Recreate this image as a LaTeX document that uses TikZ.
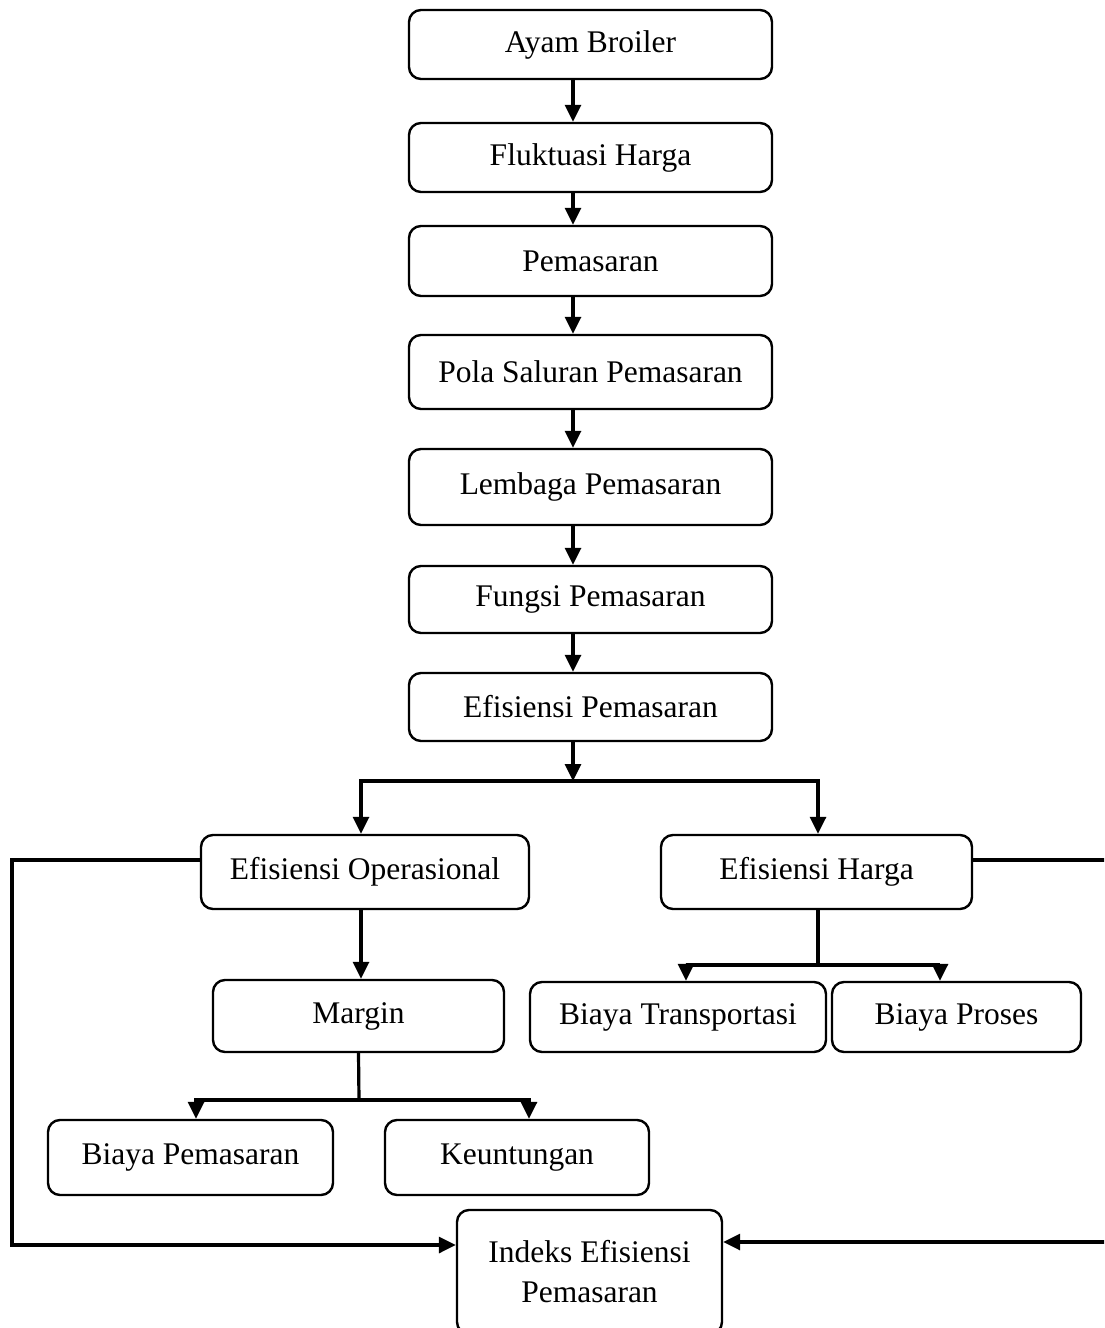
\documentclass[tikz,border=0pt]{standalone}
\usepackage{fontspec}
\setmainfont{Liberation Serif}
\usetikzlibrary{arrows.meta}
\begin{document}
\begin{tikzpicture}[x=1pt,y=-1pt,
  box/.style={draw, line width=2.4pt, rounded corners=12pt, inner sep=0pt, align=center,
    font=\fontsize{31.5}{40}\selectfont},
  conn/.style={line width=3.2pt},
  arr/.style={line width=3.2pt, -{Triangle[length=17pt,width=16pt]}}]
\useasboundingbox (0,0) rectangle (1104,1328);
\clip (0,0) rectangle (1104,1328);
% main column
\node[box, minimum width=363pt, minimum height=69pt] (b1) at (590.5,44.5) {Ayam Broiler};
\node[box, minimum width=363pt, minimum height=69pt] (b2) at (590.5,157.5) {Fluktuasi Harga};
\node[box, minimum width=363pt, minimum height=70pt] (b3) at (590.5,261) {Pemasaran};
\node[box, minimum width=363pt, minimum height=74pt] (b4) at (590.5,372) {Pola Saluran Pemasaran};
\node[box, minimum width=363pt, minimum height=76pt] (b5) at (590.5,487) {Lembaga Pemasaran};
\node[box, minimum width=363pt, minimum height=67pt] (b6) at (590.5,599.5) {Fungsi Pemasaran};
\node[box, minimum width=363pt, minimum height=68pt] (b7) at (590.5,707) {Efisiensi Pemasaran};
% second level
\node[box, minimum width=328pt, minimum height=74pt] (eo) at (365,872) {Efisiensi Operasional};
\node[box, minimum width=311pt, minimum height=74pt] (eh) at (816.5,872) {Efisiensi Harga};
% third level
\node[box, minimum width=291pt, minimum height=72pt] (mg) at (358.5,1016) {Margin};
\node[box, minimum width=296pt, minimum height=70pt] (bt) at (678,1017) {Biaya Transportasi};
\node[box, minimum width=249pt, minimum height=70pt] (bp) at (956.5,1017) {Biaya Proses};
% fourth level
\node[box, minimum width=285pt, minimum height=75pt] (bm) at (190.5,1157.5) {Biaya Pemasaran};
\node[box, minimum width=264pt, minimum height=75pt] (ku) at (517,1157.5) {Keuntungan};
% bottom
\node[box, minimum width=265pt, minimum height=124pt] (ix) at (589.5,1272) {Indeks Efisiensi\\Pemasaran};
% arrows in the main column
\foreach \a/\b in {b1/b2,b2/b3,b3/b4,b4/b5,b5/b6,b6/b7}
  \draw[arr] ([xshift=-17.5pt]\a.south) -- ([xshift=-17.5pt]\b.north);
% branch to efisiensi operasional / harga
\coordinate (j1) at (573,781);
\draw[arr] ([xshift=-17.5pt]b7.south) -- (j1);
\draw[arr] (j1) -| ([xshift=-4pt]eo.north);
\draw[arr] (j1) -| ([xshift=1.5pt]eh.north);
% operasional -> margin
\draw[arr] ([xshift=-4pt]eo.south) -- ([xshift=2.5pt]mg.north);
% harga -> biaya transportasi / proses
\coordinate (j2) at (818,965);
\draw[conn] ([xshift=1.5pt]eh.south) -- (j2);
\draw[arr] (j2) -| ([xshift=8pt]bt.north);
\draw[arr] (j2) -| ([xshift=-16.5pt]bp.north);
% margin -> biaya pemasaran / keuntungan
\coordinate (j3) at (359,1100);
\draw[conn] (mg.south) -- (j3);
\draw[arr] (j3) -| ([xshift=5.5pt]bm.north);
\draw[arr] (j3) -| ([xshift=12pt]ku.north);
% side connectors to indeks
\draw[arr] ([yshift=12pt]eo.west) -- (12,860) -- (12,1245) -- (ix.west |- 0,1245);
\draw[arr] ([yshift=12pt]eh.east) -- (1125,860) -- (1125,1242) -- (ix.east |- 0,1242);
\end{tikzpicture}
\end{document}
